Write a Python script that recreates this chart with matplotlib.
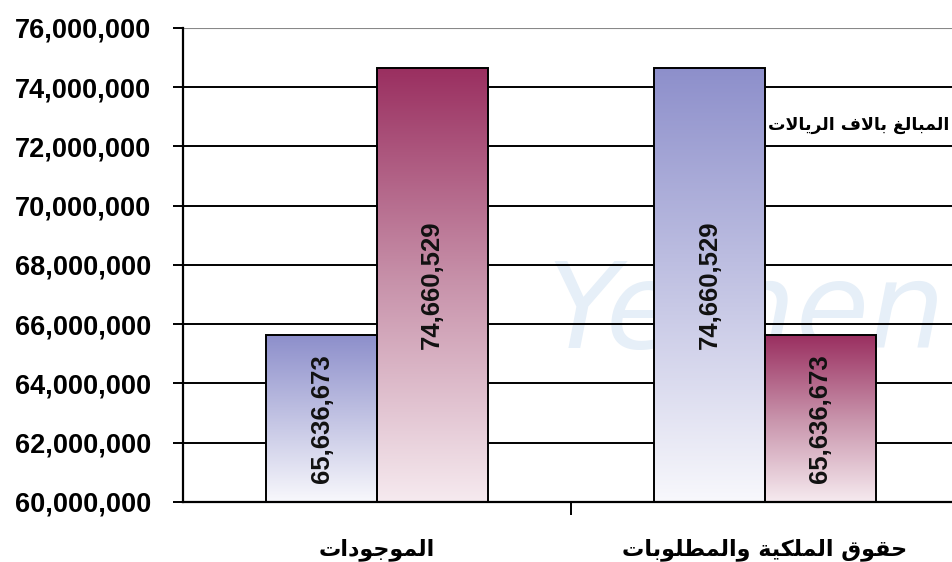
import numpy as np
from matplotlib import pyplot as plt
from matplotlib.colors import LinearSegmentedColormap
from matplotlib.patches import Arc

categories = ["الموجودات", "حقوق الملكية والمطلوبات"]
blue_values = [65636673, 74660529]
maroon_values = [74660529, 65636673]
unit_note = "المبالغ بالاف الريالات"
y_ticks = list(range(60000000, 76000001, 2000000))

# Arabic presentation forms: (isolated, final, initial, medial)
FORMS = {
    "ا": (0xFE8D, 0xFE8E), "د": (0xFEA9, 0xFEAA), "و": (0xFEED, 0xFEEE),
    "ر": (0xFEAD, 0xFEAE), "ة": (0xFE93, 0xFE94), "\uFEFB": (0xFEFB, 0xFEFC),
    "ب": (0xFE8F, 0xFE90, 0xFE91, 0xFE92), "ت": (0xFE95, 0xFE96, 0xFE97, 0xFE98),
    "ج": (0xFE9D, 0xFE9E, 0xFE9F, 0xFEA0), "ح": (0xFEA1, 0xFEA2, 0xFEA3, 0xFEA4),
    "ط": (0xFEC1, 0xFEC2, 0xFEC3, 0xFEC4), "غ": (0xFECD, 0xFECE, 0xFECF, 0xFED0),
    "ف": (0xFED1, 0xFED2, 0xFED3, 0xFED4), "ق": (0xFED5, 0xFED6, 0xFED7, 0xFED8),
    "ك": (0xFED9, 0xFEDA, 0xFEDB, 0xFEDC), "ل": (0xFEDD, 0xFEDE, 0xFEDF, 0xFEE0),
    "م": (0xFEE1, 0xFEE2, 0xFEE3, 0xFEE4), "ي": (0xFEF1, 0xFEF2, 0xFEF3, 0xFEF4),
}


def shape(text):
    '''Join Arabic letters and put them in visual (left to right) order.'''
    text = text.replace("لا", "\uFEFB")
    out = []
    for i, ch in enumerate(text):
        if ch not in FORMS:
            out.append(ch)
            continue
        prev = text[i - 1] if i > 0 else ""
        nxt = text[i + 1] if i + 1 < len(text) else ""
        join_prev = prev in FORMS and len(FORMS[prev]) == 4
        join_next = len(FORMS[ch]) == 4 and nxt in FORMS
        f = FORMS[ch]
        if join_prev and join_next:
            code = f[3]
        elif join_prev:
            code = f[1]
        elif join_next:
            code = f[2]
        else:
            code = f[0]
        out.append(chr(code))
    return "".join(out)[::-1]


fig = plt.figure(figsize=(9.52, 5.62), dpi=100)
ax = fig.add_axes([0.1922, 0.1068, 0.811, 0.8434])

x = np.arange(len(categories))
width = 0.285
ymin, ymax = 60000000, 76000000

# faint watermark behind the chart
ax.add_patch(Arc((0.55, 65500000), 2.3, 11000000, theta1=95, theta2=250,
                 color="#e3f1fa", lw=10, zorder=0))
ax.text(0.95, 66300000, "Yemen", fontsize=86, style="italic", color="#e6eff8",
        ha="center", va="center", zorder=0, family="DejaVu Sans")

for yt in y_ticks[:-1]:
    ax.axhline(yt, color="black", lw=1.4, zorder=1)
ax.axhline(ymax, color="#888888", lw=0.8, zorder=1)

blue_cmap = LinearSegmentedColormap.from_list("b", ["#f8f8fc", "#8d8fcb"])
maroon_cmap = LinearSegmentedColormap.from_list("m", ["#f6eaef", "#c893ab", "#9a2f60"])
grad = np.linspace(0, 1, 256).reshape(-1, 1)

for vals, offset, cmap in [(blue_values, -width / 2, blue_cmap),
                           (maroon_values, width / 2, maroon_cmap)]:
    bars = ax.bar(x + offset, np.array(vals) - ymin, width, bottom=ymin,
                  facecolor="none", edgecolor="black", lw=1.4, zorder=3)
    for bar, v in zip(bars, vals):
        x0 = bar.get_x()
        im = ax.imshow(grad, cmap=cmap, aspect="auto", origin="lower",
                       extent=[x0, x0 + width, ymin, v], zorder=2)
        im.set_clip_path(bar)
        ax.text(x0 + width / 2, (ymin + v) / 2, f"{v:,}", rotation=90,
                ha="center", va="center", fontsize=18.5, fontweight="bold",
                color="#111111", family="Liberation Sans", zorder=4)

ax.set_xlim(-0.5, 1.49)
ax.set_ylim(ymin, ymax)
ax.set_yticks(y_ticks)
ax.set_yticklabels([f"{t:,}" for t in y_ticks], fontsize=19.5,
                   fontweight="bold", family="Liberation Sans")
ax.tick_params(axis="y", length=7, width=1.4, pad=16)

ax.set_xticks(x)
ax.set_xticklabels([shape(c) for c in categories], fontsize=16,
                   fontweight="bold", family="DejaVu Sans")
ax.tick_params(axis="x", which="major", length=0, pad=26)
ax.set_xticks([0.5], minor=True)
ax.tick_params(axis="x", which="minor", length=9, width=1.4, direction="out")

for side in ["top", "right"]:
    ax.spines[side].set_visible(False)
ax.spines["left"].set_linewidth(1.6)
ax.spines["bottom"].set_linewidth(1.6)

fig.text(0.997, 0.778, shape(unit_note), ha="right", va="center",
         fontsize=12.5, fontweight="bold", family="DejaVu Sans", zorder=5)

fig.savefig("out.png", dpi=100)
